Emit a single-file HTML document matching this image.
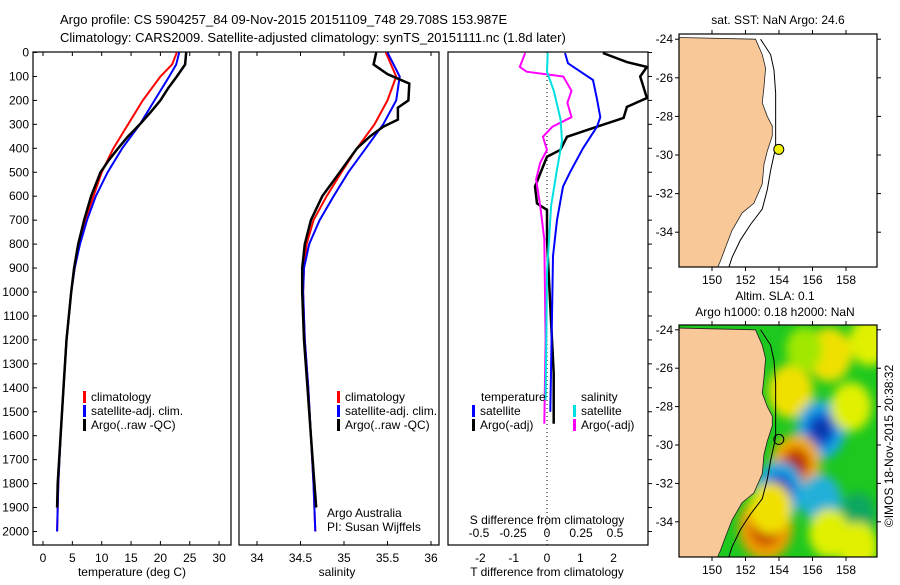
<!DOCTYPE html>
<html><head><meta charset="utf-8"><style>
body{margin:0;background:#fff;}
svg text{font-family:"Liberation Sans",sans-serif;font-size:12px;fill:#000;}
</style></head><body>
<svg id="c" width="900" height="580" xmlns="http://www.w3.org/2000/svg">
<defs>
<filter id="blur" x="-50%" y="-50%" width="200%" height="200%"><feGaussianBlur stdDeviation="5"/></filter>
<clipPath id="clipTop"><rect x="679" y="34" width="198" height="233"/></clipPath>
<clipPath id="clipBot"><rect x="679" y="325" width="198" height="232"/></clipPath>
</defs>
<text x="60" y="24" style="font-size:13px">Argo profile: CS 5904257_84 09-Nov-2015 20151109_748 29.708S 153.987E</text>
<text x="60" y="42" style="font-size:13px">Climatology: CARS2009. Satellite-adjusted climatology: synTS_20151111.nc (1.8d later)</text>
</svg>
<script>
// ---------- data ----------
const depthTicks=[0,100,200,300,400,500,600,700,800,900,1000,1100,1200,1300,1400,1500,1600,1700,1800,1900,2000];
const tempTicks=[0,5,10,15,20,25,30];
const salTicks=[34,34.5,35,35.5,36];
const tdiffTicks=[-2,-1,0,1,2];
const sdiffTicks=[-0.5,-0.25,0,0.25,0.5];
const sdiffTickLabels=["-0.5","-0.25","0","0.25","0.5"];
const lonTicks=[150,152,154,156,158];
const latTicks=[-24,-26,-28,-30,-32,-34];

const tempArgoDepth=[0,50,100,150,200,250,300,350,400,450,500,600,700,800,900,1000,1200,1400,1600,1800,1900];
const tempArgo=[24.4,24.2,22.8,21.3,20,18.3,16.5,14.5,12.8,11.2,9.8,8.2,7,6,5.3,4.8,4,3.5,3,2.5,2.4];
const tempClimDepth=[0,50,100,200,300,400,500,600,700,800,900,1000,1200,1400,1600,1800,2000];
const tempClim=[22.8,22,20,17,14.5,12,10,8.6,7.2,6.2,5.4,4.8,4,3.5,3,2.6,2.4];
const tempSat=[23.2,22.7,21.5,19,16.5,13.5,11,9,7.5,6.3,5.4,4.8,4,3.5,3,2.6,2.4];

const salArgoDepth=[0,50,90,130,200,230,280,310,350,400,450,500,550,600,700,800,900,1000,1200,1400,1600,1800,1900];
const salArgo=[35.37,35.34,35.5,35.75,35.74,35.62,35.62,35.45,35.3,35.15,35.05,34.95,34.85,34.75,34.62,34.55,34.52,34.52,34.54,34.58,34.62,34.66,34.68];
const salClimDepth=[0,100,200,300,400,500,600,700,800,900,1000,1200,1400,1600,1800,2000];
const salSat=[35.5,35.64,35.6,35.45,35.25,35.05,34.88,34.72,34.6,34.54,34.53,34.55,34.59,34.62,34.65,34.67];
const salClim=[35.48,35.6,35.5,35.35,35.15,34.97,34.8,34.65,34.57,34.54,34.53,34.55,34.59,34.62,34.65,34.67];

const tdArgoDepth=[2,40,60,100,190,227,273,310,352,407,435,505,560,630,657,780,1060,1340,1550];
const tdArgo=[1.68,2.4,3.0,2.8,3.0,2.4,2.3,1.5,0.6,0.4,0,-0.2,-0.36,-0.3,0,0,0.1,0.2,0.2];
const tdSatDepth=[2,45,115,195,270,310,400,500,560,700,850,1100,1500];
const tdSat=[0.54,0.63,1.38,1.5,1.6,1.5,1.08,0.69,0.48,0.3,0.18,0.15,0.1];
const sdArgoDepth=[2,60,80,100,160,210,270,310,352,407,460,530,640,780,1200,1550];
const sdArgo=[-0.16,-0.2,-0.15,0.12,0.18,0.15,0.18,0.04,-0.03,0,-0.05,-0.08,-0.05,-0.02,-0.01,-0.02];
const sdSatDepth=[2,80,160,280,370,500,640,920,1450];
const sdSat=[0.005,0,0.05,0.1,0.11,0.07,0.03,0,-0.01];

const coastLon=[152.6,153.0,153.2,153.1,153.0,153.3,153.6,153.6,153.3,153.1,153.0,152.5,151.8,151.2,150.8,150.5,150.2];
const coastLat=[-24.0,-24.8,-25.5,-26.5,-27.3,-28.0,-28.5,-29.0,-29.8,-30.5,-31.5,-32.5,-33.0,-33.9,-34.8,-35.5,-36.1];
const shelfLon=[152.9,153.5,153.7,153.8,153.8,153.8,153.5,153.3,153.0,152.3,151.7,151.2,150.9];
const shelfLat=[-24.0,-24.8,-25.6,-26.8,-28.2,-29.6,-30.8,-31.8,-32.8,-33.6,-34.4,-35.3,-36.1];
const argoLon=153.987, argoLat=-29.708;

const slaLon=[157,154.7,156.5,155,154,156.5,153.2,159.4,158.3,158.7,158.7,157,155.5,153.5];
const slaLat=[-25.3,-27.2,-29.2,-31,-32.4,-32.8,-34.3,-24.6,-28,-33.6,-35.3,-34.6,-25,-33.3];
const slaVal=[0.3,0.3,-0.4,0.4,-0.4,-0.2,0.5,0.2,0.2,-0.1,0.2,0.2,0.1,0.25];

// ---------- helpers ----------
const svg=document.getElementById('c');
const NS='http://www.w3.org/2000/svg';
function el(tag,attrs,parent){const e=document.createElementNS(NS,tag);for(const k in attrs)e.setAttribute(k,attrs[k]);(parent||svg).appendChild(e);return e;}
function txt(x,y,s,anchor,parent){const t=el('text',{x:x,y:y,'text-anchor':anchor||'start'},parent);t.textContent=s;return t;}
const Y=d=>52.5+d*0.2395;
const TX=v=>43+v*5.87;
const SX=v=>257+(v-34)*87;
const DTX=v=>547+v*33.3;
const DSX=v=>547+v*136;
function line(xs,ys,fx,color,w,name){
  const pts=xs.map((v,i)=>fx(v).toFixed(1)+','+Y(ys[i]).toFixed(1)).join(' ');
  const p=el('polyline',{points:pts,fill:'none',stroke:color,'stroke-width':w});
  
  
}
function panel(x0,x1,name){
  const r=el('rect',{x:x0,y:52,width:x1-x0,height:493,fill:'none',stroke:'#000','stroke-width':1.2});
  
  
}
panel(33,231,'temperature-panel');
panel(239,439,'salinity-panel');
panel(448,648,'difference-panel');

depthTicks.forEach(d=>{
  el('line',{x1:33,x2:37,y1:Y(d),y2:Y(d),stroke:'#000'});
  el('line',{x1:648,x2:652,y1:Y(d),y2:Y(d),stroke:'#000'});
  const t=txt(29,Y(d)+4,String(d),'end');
  
  
});
tempTicks.forEach(v=>{
  el('line',{x1:TX(v),x2:TX(v),y1:52,y2:56,stroke:'#000'});
  el('line',{x1:TX(v),x2:TX(v),y1:545,y2:541,stroke:'#000'});
  const t=txt(TX(v),562,String(v),'middle');
  
  
});
salTicks.forEach(v=>{
  el('line',{x1:SX(v),x2:SX(v),y1:52,y2:56,stroke:'#000'});
  el('line',{x1:SX(v),x2:SX(v),y1:545,y2:541,stroke:'#000'});
  const t=txt(SX(v),562,String(v),'middle');
  
  
});
tdiffTicks.forEach(v=>{
  const t=txt(DTX(v),562,String(v),'middle');
  
  
});
sdiffTicks.forEach((v,i)=>{
  const t=txt(DSX(v),537,sdiffTickLabels[i],'middle');
  
  
});
let t;
t=txt(132,576,'temperature (deg C)','middle');
t=txt(337,576,'salinity','middle');
t=txt(547,576,'T difference from climatology','middle');
t=txt(547,524,'S difference from climatology','middle');
t=txt(327,517,'Argo Australia');
t=txt(327,531,'PI: Susan Wijffels');

el('line',{x1:547,x2:547,y1:52,y2:545,stroke:'#000','stroke-dasharray':'1,3'});

line(tempClim,tempClimDepth,TX,'#ff0000',2,'temperature-climatology-line');
line(tempSat,tempClimDepth,TX,'#0000ff',2,'temperature-satellite-line');
line(tempArgo,tempArgoDepth,TX,'#000',2.5,'temperature-argo-line');
line(salClim,salClimDepth,SX,'#ff0000',2,'salinity-climatology-line');
line(salSat,salClimDepth,SX,'#0000ff',2,'salinity-satellite-line');
line(salArgo,salArgoDepth,SX,'#000',2.5,'salinity-argo-line');
line(tdArgo,tdArgoDepth,DTX,'#000',2.5,'t-diff-argo-line');
line(tdSat,tdSatDepth,DTX,'#0000ff',2,'t-diff-satellite-line');
line(sdArgo,sdArgoDepth,DSX,'#ff00ff',2,'s-diff-argo-line');
line(sdSat,sdSatDepth,DSX,'#00e0e0',2,'s-diff-satellite-line');

function leg(x,y,color,label,name){
  el('rect',{x:x,y:y-10,width:3,height:12,fill:color});
  const tt=txt(x+8,y,label);
  
  
}
leg(83,401,'#ff0000','climatology','legend-climatology');
leg(83,415,'#0000ff','satellite-adj. clim.','legend-satellite-adj');
leg(83,429,'#000','Argo(..raw -QC)','legend-argo');
leg(337,401,'#ff0000','climatology','legend-climatology-sal');
leg(337,415,'#0000ff','satellite-adj. clim.','legend-satellite-adj-sal');
leg(337,429,'#000','Argo(..raw -QC)','legend-argo-sal');
t=txt(481,401,'temperature');
leg(472,415,'#0000ff','satellite','legend-t-satellite');
leg(472,429,'#000','Argo(-adj)','legend-t-argo');
t=txt(581,401,'salinity');
leg(573,415,'#00e0e0','satellite','legend-s-satellite');
leg(573,429,'#ff00ff','Argo(-adj)','legend-s-argo');

// ---------- maps ----------
const MX=lon=>712+(lon-150)*16.75;
function drawMap(y0,h,latY,clip,sla,name){
  const g=el('g',{'clip-path':'url(#'+clip+')'});
  
  
  el('rect',{x:679,y:y0,width:198,height:h,fill:sla?'#1ec81e':'#fff'},g);
  if(sla){
    const bg=el('g',{filter:'url(#blur)'},g);
    slaLon.forEach((lo,i)=>{
      const v=slaVal[i];
      const c=v>=0.45?'#f0a000':v>=0.35?'#f0b000':v>=0.25?'#f0e000':v>=0.15?'#e0f000':v>=0.05?'#a0e800':v>-0.15?'#10a860':v>-0.3?'#20b0d8':'#18a8e0';
      const r=16+Math.abs(v)*22;
      const b=el('ellipse',{cx:MX(lo),cy:latY(slaLat[i]),rx:r,ry:r*1.2,fill:c},bg);
      
      
      if(Math.abs(v)>=0.35){
        const cc=v>0?'#d05000':'#1050d0';
        el('ellipse',{cx:MX(lo),cy:latY(slaLat[i]),rx:r*0.6,ry:r*0.7,fill:cc},bg);
        const cc2=v>0?'#a82000':'#1030a0';
        el('ellipse',{cx:MX(lo),cy:latY(slaLat[i]),rx:r*0.3,ry:r*0.35,fill:cc2},bg);
      }
    });
  }
  const land=coastLon.map((v,i)=>MX(v)+','+latY(coastLat[i])).join(' ')+' 670,'+latY(-36.2)+' 670,'+latY(-23.9);
  const lp=el('polygon',{points:land,fill:'#f9c898',stroke:'#222','stroke-width':0.8},g);
  
  
  el('polyline',{points:shelfLon.map((v,i)=>MX(v)+','+latY(shelfLat[i])).join(' '),fill:'none',stroke:'#000','stroke-width':1},g);
  el('rect',{x:679,y:y0,width:198,height:h,fill:'none',stroke:'#000','stroke-width':1.2});
  lonTicks.forEach(lo=>{
    el('line',{x1:MX(lo),x2:MX(lo),y1:y0,y2:y0-4,stroke:'#000'});
    el('line',{x1:MX(lo),x2:MX(lo),y1:y0+h,y2:y0+h+4,stroke:'#000'});
    const tt=txt(MX(lo),y0+h+17,String(lo),'middle');
    
    
  });
  latTicks.forEach(la=>{
    el('line',{x1:679,x2:675,y1:latY(la),y2:latY(la),stroke:'#000'});
    el('line',{x1:877,x2:881,y1:latY(la),y2:latY(la),stroke:'#000'});
    const tt=txt(673,latY(la)+4,String(la),'end');
    
    
  });
  const pt=el('circle',{cx:MX(argoLon),cy:latY(argoLat),r:5,fill:sla?'none':'#f0f000',stroke:'#000','stroke-width':1});
  
  
}
drawMap(34,233,lat=>155-(lat+30)*19.3,'clipTop',false,'sst-map');
drawMap(325,232,lat=>445-(lat+30)*19.2,'clipBot',true,'sla-map');
t=txt(778,24,'sat. SST: NaN Argo: 24.6','middle');
t=txt(775,300,'Altim. SLA: 0.1','middle');
t=txt(775,316,'Argo h1000: 0.18 h2000: NaN','middle');
t=el('text',{x:893,y:446,'text-anchor':'middle',transform:'rotate(-90 893 446)'});t.textContent='©IMOS 18-Nov-2015 20:38:32';


</script>
</body></html>
